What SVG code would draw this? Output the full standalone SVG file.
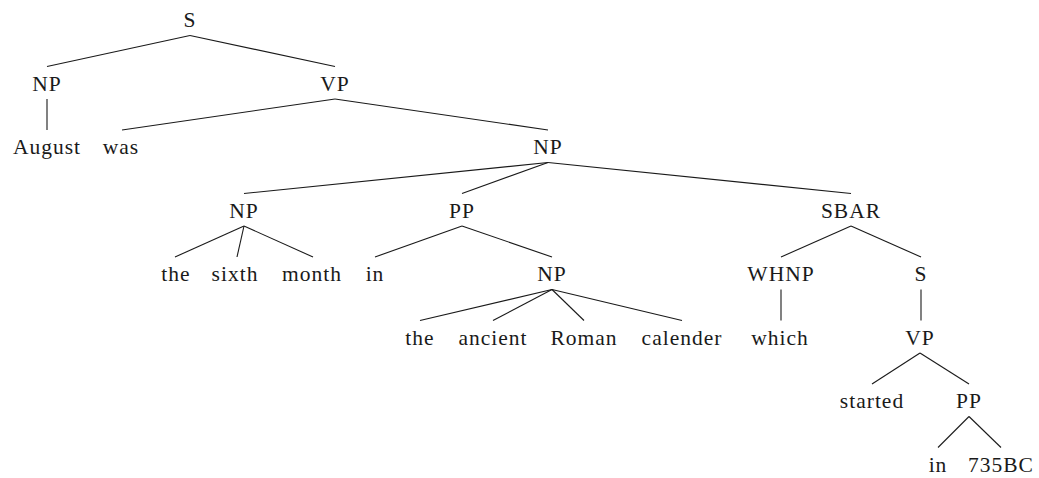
<svg xmlns="http://www.w3.org/2000/svg" width="1039" height="478" viewBox="0 0 1039 478">
<style>
text{font-family:'Liberation Serif','Times New Roman',serif;font-size:21.5px;letter-spacing:1px;fill:#1a1a1a;text-anchor:middle}
line{stroke:#1a1a1a;stroke-width:1.1}
</style>
<rect width="1039" height="478" fill="#ffffff"/>
<g id="connectors">
<line x1="190" y1="35.5" x2="47" y2="66.5"/>
<line x1="190" y1="35.5" x2="335" y2="66.5"/>
<line x1="47" y1="99" x2="47" y2="130"/>
<line x1="335" y1="99" x2="122" y2="130"/>
<line x1="335" y1="99" x2="548" y2="130"/>
<line x1="548" y1="162.5" x2="244" y2="193.5"/>
<line x1="548" y1="162.5" x2="462" y2="193.5"/>
<line x1="548" y1="162.5" x2="851" y2="193.5"/>
<line x1="244" y1="226" x2="175" y2="257"/>
<line x1="244" y1="226" x2="237" y2="257"/>
<line x1="244" y1="226" x2="313" y2="257"/>
<line x1="462" y1="226" x2="375" y2="257"/>
<line x1="462" y1="226" x2="552" y2="257"/>
<line x1="851" y1="226" x2="781" y2="257"/>
<line x1="851" y1="226" x2="921" y2="257"/>
<line x1="552" y1="289.5" x2="420" y2="320.5"/>
<line x1="552" y1="289.5" x2="493" y2="320.5"/>
<line x1="552" y1="289.5" x2="584" y2="320.5"/>
<line x1="552" y1="289.5" x2="682" y2="320.5"/>
<line x1="781" y1="289.5" x2="781" y2="320.5"/>
<line x1="921" y1="289.5" x2="921" y2="320.5"/>
<line x1="920" y1="353" x2="872" y2="384"/>
<line x1="920" y1="353" x2="969" y2="384"/>
<line x1="969" y1="416.5" x2="938" y2="447.5"/>
<line x1="969" y1="416.5" x2="1001" y2="447.5"/>
</g>
<g id="n_S"><text x="190" y="27">S</text></g>
<g id="n_NP1"><text x="47" y="90.5">NP</text></g>
<g id="n_VP1"><text x="335" y="90.5">VP</text></g>
<g id="n_August"><text x="47" y="154">August</text></g>
<g id="n_was"><text x="121" y="154">was</text></g>
<g id="n_NP2"><text x="548" y="154">NP</text></g>
<g id="n_NP3"><text x="244" y="217.5">NP</text></g>
<g id="n_PP3"><text x="462" y="217.5">PP</text></g>
<g id="n_SBAR"><text x="851" y="217.5">SBAR</text></g>
<g id="n_the1"><text x="176" y="281">the</text></g>
<g id="n_sixth"><text x="235" y="281">sixth</text></g>
<g id="n_month"><text x="312" y="281">month</text></g>
<g id="n_in1"><text x="375" y="281">in</text></g>
<g id="n_NP4"><text x="552" y="281">NP</text></g>
<g id="n_WHNP"><text x="781" y="281">WHNP</text></g>
<g id="n_S2"><text x="921" y="281">S</text></g>
<g id="n_the2"><text x="420" y="344.5">the</text></g>
<g id="n_ancient"><text x="493" y="344.5">ancient</text></g>
<g id="n_Roman"><text x="584" y="344.5">Roman</text></g>
<g id="n_calender"><text x="682" y="344.5">calender</text></g>
<g id="n_which"><text x="780" y="344.5">which</text></g>
<g id="n_VP2"><text x="920" y="344.5">VP</text></g>
<g id="n_started"><text x="872" y="408">started</text></g>
<g id="n_PP2"><text x="969" y="408">PP</text></g>
<g id="n_in2"><text x="938" y="471.5">in</text></g>
<g id="n_735BC"><text x="1001" y="471.5">735BC</text></g>
</svg>
